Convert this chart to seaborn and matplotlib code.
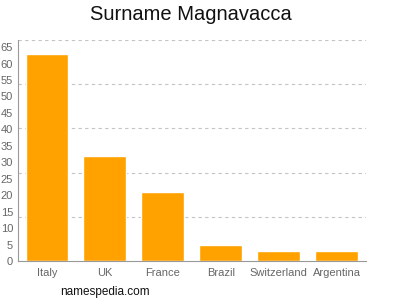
import matplotlib
matplotlib.use("Agg")
import matplotlib.pyplot as plt
import seaborn as sns
import pandas as pd

countries = ["Italy", "UK", "France", "Brazil", "Switzerland", "Argentina"]
counts = [63, 32, 21, 5, 3, 3]
yticks = list(range(0, 70, 5))

sns.set_style("white")
plt.rcParams['font.family'] = ['Liberation Sans', 'DejaVu Sans']

df = pd.DataFrame({"country": countries, "count": counts})
fig = plt.figure(figsize=(4, 3), dpi=100)
ax = fig.add_axes([0.045, 0.13, 0.869, 0.737])
sns.barplot(data=df, x="country", y="count", color="#FFA200", saturation=1,
            width=0.74, ax=ax, zorder=2)
ymax = 67.2
ax.set_ylim(0, ymax)
ax.set_xlim(-0.5, 5.5)
for i in range(1, 6):
    ax.axhline(ymax * i / 5, color="#c4c4c4", linestyle=(0, (3, 3)), linewidth=0.8, zorder=1)
ax.set_yticks(yticks)
ax.set_xlabel("")
ax.set_ylabel("")
for s in ["top", "right"]:
    ax.spines[s].set_visible(False)
for s in ["left", "bottom"]:
    ax.spines[s].set_color("#999999")
    ax.spines[s].set_linewidth(0.8)
ax.tick_params(axis="both", colors="#999999", labelcolor="#666666", labelsize=8,
               length=3, width=0.8, pad=0.5)
ax.tick_params(axis="x", pad=2)
fig.text(0.4775, 0.95, "Surname Magnavacca", ha="center", va="center", fontsize=14.5, color="#111111")
fig.text(0.15, 0.028, "namespedia.com", ha="left", va="center", fontsize=8.5, color="#111111")
fig.savefig("out.png", dpi=100)
